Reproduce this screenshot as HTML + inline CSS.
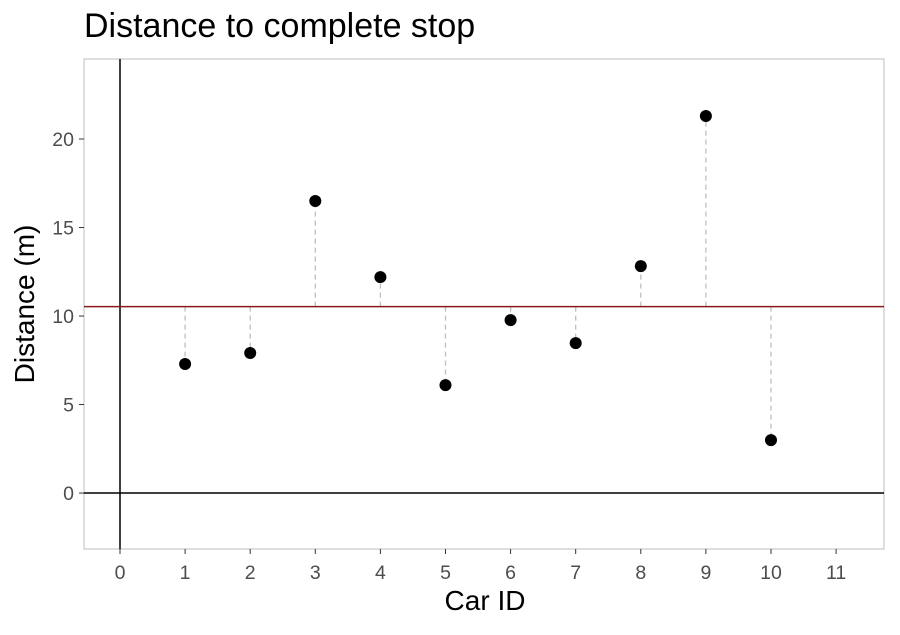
<!DOCTYPE html>
<html><head><meta charset="utf-8"><style>
body{margin:0;background:#fff;}
svg text{font-family:"Liberation Sans",sans-serif;}
</style></head><body>
<svg id="chart" width="900" height="630" xmlns="http://www.w3.org/2000/svg">
<rect width="900" height="630" fill="#fff"/>
<text x="84" y="37" font-size="34" fill="#000">Distance to complete stop</text>
<rect x="84" y="59" width="800" height="490" fill="none" stroke="#bdbdbd" stroke-width="1"/>
<g id="plot"></g>
<text x="485" y="610" font-size="28" text-anchor="middle" fill="#000">Car ID</text>
<text transform="translate(34,304) rotate(-90)" font-size="28" text-anchor="middle" fill="#000">Distance (m)</text>
</svg>
<script>
const carIds=[1,2,3,4,5,6,7,8,9,10];
const distances=[7.29,7.91,16.5,12.2,6.1,9.77,8.47,12.82,21.3,2.99];
const xTicks=[0,1,2,3,4,5,6,7,8,9,10,11];
const yTicks=[0,5,10,15,20];
const NS="http://www.w3.org/2000/svg";
const L=84,R=884,T=59,B=549;
const xMin=-0.553,xMax=11.736,yMin=-3.16,yMax=24.52;
const sx=v=>L+(v-xMin)/(xMax-xMin)*(R-L);
const sy=v=>B-(v-yMin)/(yMax-yMin)*(B-T);
const g=document.getElementById('plot');
function mk(tag,attrs){const e=document.createElementNS(NS,tag);for(const k in attrs)e.setAttribute(k,attrs[k]);g.appendChild(e);return e;}
const mean=distances.reduce((a,b)=>a+b,0)/distances.length;
let e=mk('line',{x1:sx(0),x2:sx(0),y1:T,y2:B,stroke:'#000','stroke-width':1.5});


e=mk('line',{x1:L,x2:R,y1:sy(0),y2:sy(0),stroke:'#000','stroke-width':1.5});


carIds.forEach((c,i)=>{
 const s=mk('line',{x1:sx(c),x2:sx(c),y1:sy(mean),y2:sy(distances[i]),stroke:'#bebebe','stroke-width':1.3,'stroke-dasharray':'5,4'});
 
 
});
e=mk('line',{x1:L,x2:R,y1:sy(mean),y2:sy(mean),stroke:'#8b1a1a','stroke-width':1.5});


carIds.forEach((c,i)=>{
 const p=mk('circle',{cx:sx(c),cy:sy(distances[i]),r:6,fill:'#000'});
 
 
});
xTicks.forEach(t=>{
 const l=mk('line',{x1:sx(t),x2:sx(t),y1:B,y2:B+5,stroke:'#333','stroke-width':1});
 
 
 const tx=mk('text',{x:sx(t),y:B+30,'font-size':19.5,'text-anchor':'middle',fill:'#4d4d4d'});
 tx.textContent=t;
 
 
});
yTicks.forEach(t=>{
 const l=mk('line',{x1:L-5,x2:L,y1:sy(t),y2:sy(t),stroke:'#333','stroke-width':1});
 
 
 const tx=mk('text',{x:L-10,y:sy(t)+7,'font-size':19.5,'text-anchor':'end',fill:'#4d4d4d'});
 tx.textContent=t;
 
 
});
</script>
</body></html>
